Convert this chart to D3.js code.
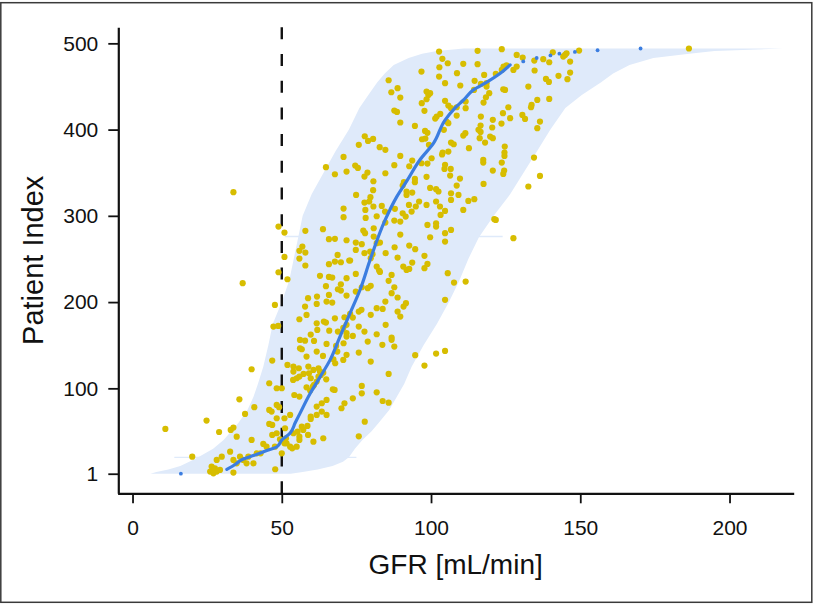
<!DOCTYPE html>
<html><head><meta charset="utf-8">
<script src="https://cdn.jsdelivr.net/npm/d3@7"></script>
<style>html,body{margin:0;padding:0;background:#fff;} svg{display:block;}</style>
</head><body>
<svg id="chart" width="815" height="604"></svg>
<script>
// ---------- data ----------
const xTicks = [0, 50, 100, 150, 200];
const yTicks = [1, 100, 200, 300, 400, 500];
const xLabel = "GFR [mL/min]";
const yLabel = "Patient Index";
const threshold = 50;

// prediction interval (per sorted patient index)
const bandIdx   = [1, 3, 6, 10, 15, 20, 30, 40, 50, 60, 75, 90, 105, 125, 150, 175, 200, 225, 250, 275, 300, 325, 350, 375, 400, 425, 440, 455, 465, 475, 483, 488, 491, 494];
const bandLower = [6, 8, 12, 16, 19, 22, 27, 30.5, 33, 35.5, 38.5, 40.5, 42, 43.8, 45.5, 47, 50, 52.5, 54, 55.5, 57, 60, 64, 68, 72.5, 76, 79, 82, 84.5, 87.5, 92.5, 97, 102, 111];
const bandUpper = [53, 57, 62, 67, 70.5, 72.5, 74.5, 77, 80, 82.5, 86, 88.5, 91, 93.5, 97.5, 102, 106, 109.5, 112.5, 116, 121, 126.5, 131, 135.5, 140, 145, 150.5, 157, 161, 166.5, 174.5, 186.5, 195, 218];
// single patients with unusually wide intervals
const wideRowIdx   = [20, 276];
const wideRowLower = [14, 51];
const wideRowUpper = [75, 124];

// predicted GFR (sorted) – continuous part
const predIdx = [6, 12, 18, 22, 28, 32, 40, 48, 60, 71, 94, 113, 133, 160, 185, 214, 249, 295, 322, 341, 365, 384, 411, 425, 434, 446, 455, 465, 475];
const predGfr = [31.6, 34.5, 37.1, 40.5, 45, 48.3, 50, 52.8, 54.5, 56.1, 59.5, 62.8, 66.2, 69.5, 72.6, 76.2, 79.6, 84.6, 88.5, 92, 96.3, 100.8, 104.7, 108, 110.8, 114.2, 118.7, 123.1, 126.5];
// predicted GFR – isolated patients at the extremes
const predSparseIdx = [1, 479, 483, 486, 488, 490, 492, 494];
const predSparseGfr = [16.2, 130.9, 135.4, 140, 143, 148.2, 155.8, 170.2];

// measured GFR [gfr, patient index]
const measured = [
[33.8,327.4],[70.7,368.3],[64.8,356.4],[67.8,348.2],[71.7,351.3],[70.7,308.4],[70.7,298.4],
[47.7,196.7],[57.8,194.8],[61.7,197.9],[65.0,200.6],[66.9,199.4],[58.3,185.1],[55.9,180.1],[47.2,171.6],[48.8,172.4],[67.8,181.2],[71.0,182.4],[64.1,177.4],[61.7,175.4],[64.8,176.2],[59.7,162.3],[61.9,167.7],[65.9,166.9],[71.7,163.9],[68.8,165.8],[56.1,156.1],[57.8,155.3],[60.8,155.0],[65.0,151.5],[68.2,149.2],[56.1,146.5],[56.7,145.3],[58.3,136.8],[61.7,142.6],[63.8,137.6],[67.3,133.7],[67.9,129.1],[70.6,132.9],[46.8,132.2],[51.9,127.1],[53.9,125.2],[53.9,119.4],[55.7,123.3],[58.9,125.2],[60.6,121.3],[62.3,123.3],[62.8,119.4],[63.1,115.5],[63.9,118.2],[64.9,110.5],[57.3,116.7],[59.1,117.5],[59.7,111.7],[60.4,102.0],[61.7,107.8],[62.3,113.6],[53.8,109.7],[55.0,111.7],[55.9,113.6],[39.9,122.1],[45.8,105.9],[48.3,100.1],[50.0,100.1],[54.2,92.3],[55.9,90.4],[58.3,101.2],[59.5,97.4],[60.8,103.9],[67.1,98.9],[67.7,98.1],[70.0,76.9],[71.0,82.7],[65.0,86.6],[63.4,82.7],[61.7,78.8],[63.4,73.0],[65.0,69.2],[61.7,69.2],[59.7,67.2],[59.7,64.5],[58.6,56.4],[56.7,55.6],[57.2,51.8],[55.9,44.0],[58.8,46.0],[60.6,38.2],[63.9,42.1],[35.8,87.3],[40.8,78.1],[37.7,70.3],[45.8,75.0],[46.6,73.0],[48.3,80.8],[49.1,78.1],[48.3,65.3],[50.9,65.3],[52.8,69.2],[45.8,58.7],[46.8,57.6],[46.8,46.0],[48.3,47.9],[51.1,53.7],[53.9,47.9],[55.3,49.8],[55.9,40.2],[55.0,32.4],[52.8,32.4],[51.6,36.3],[50.0,24.7],[50.9,36.3],[53.5,30.5],[43.8,35.5],[44.9,32.4],[42.9,24.7],[39.9,40.2],[34.9,44.0],[33.8,54.5],[32.9,51.8],[29.0,49.4],[24.8,62.6],[11.0,52.9],[20.0,20.8],[29.9,20.8],[28.2,17.0],[32.7,26.6],[36.0,20.8],[37.1,17.0],[38.8,20.8],[38.2,13.1],[40.5,13.1],[41.6,24.7],[47.7,32.4],[33.8,17.0],[34.9,13.1],[26.5,9.3],[27.6,7.3],[26.0,3.5],[27.1,1.5],[28.2,3.5],[29.3,5.4],[33.8,2.3],[47.8,6.2],[49.4,40.9],[51.4,42.1],
[48.9,287.6],[50.9,280.6],[57.9,282.6],[63.8,284.5],[65.8,272.9],[67.8,273.3],[71.7,271.7],[56.9,264.4],[55.9,259.4],[57.9,257.4],[55.9,250.5],[57.9,242.4],[68.7,254.7],[67.8,247.0],[69.8,246.2],[65.8,243.9],[72.6,248.2],[50.9,252.4],[48.9,234.6],[51.9,226.5],[62.8,230.4],[65.8,229.2],[66.9,228.4],[71.7,227.7],[69.8,220.7],[64.8,218.4],[68.8,214.9],[69.8,213.4],[71.7,207.6],[65.8,208.3],[61.8,206.4],[58.8,204.5],[36.9,221.9],
[98.8,289.5],[101.7,291.4],[101.7,287.6],[99.7,275.2],[104.7,279.9],[104.7,270.2],[106.7,283.7],[121.7,295.3],[127.6,274.1],[74.8,269.0],[76.8,267.1],[77.3,282.9],[77.9,279.9],[80.8,285.6],[80.8,276.0],[84.7,292.2],[87.7,294.5],[89.7,293.4],[89.7,278.3],[92.7,265.5],[94.7,261.3],[72.9,248.2],[74.8,260.5],[77.7,256.7],[79.6,258.6],[79.8,250.9],[80.4,255.5],[81.8,268.3],[82.9,269.0],[84.8,256.7],[87.8,263.6],[88.8,251.6],[90.7,241.2],[91.8,237.3],[92.7,238.5],[93.7,245.8],[97.8,253.6],[98.8,244.3],[97.8,239.3],[105.6,233.5],[107.7,222.6],[111.6,223.8],[104.7,202.6],[74.8,232.7],[81.8,241.2],[82.6,236.6],[82.9,235.0],[86.8,231.5],[85.8,224.6],[87.7,217.2],[86.8,210.3],[88.8,205.3],[84.7,200.6],[81.8,192.9],[83.8,192.1],[90.8,194.8],[91.6,198.7],[88.8,189.0],[89.7,183.2],[79.8,185.2],[76.7,191.0],[75.8,189.0],[72.9,186.3],[73.8,182.1],[74.8,212.2],[76.8,217.2],[78.8,216.1],[79.8,218.8],[75.8,171.6],[77.7,165.8],[73.8,160.8],[78.8,154.2],[81.8,162.7],[84.8,173.6],[83.7,150.4],[86.8,158.9],[87.7,148.4],[86.8,156.2],[79.8,131.0],[75.8,141.5],[94.7,138.4],[101.7,140.3],[104.7,143.4],[97.8,126.4],[85.8,116.7],[76.8,102.8],[70.6,170.1],[70.7,152.3],[71.7,160.0],[68.6,142.6],[71.7,138.8],[71.7,173.6],
[73.8,88.4],[76.8,94.2],[81.8,95.4],[83.8,85.3],[85.8,83.4],[77.8,61.4],[75.8,44.4],
[102.7,490.5],[115.6,491.3],[123.7,493.2],[128.7,486.6],[130.7,483.5],[103.8,482.0],[105.6,476.9],[110.8,476.2],[115.6,475.8],[124.3,473.1],[125.3,474.6],[127.6,469.2],[128.7,473.1],[96.8,467.3],[102.8,472.3],[108.7,465.4],[102.7,461.5],[114.6,456.5],[117.8,463.4],[121.7,464.6],[123.7,469.2],[134.6,480.0],[137.6,481.6],[139.6,478.1],[134.7,468.5],[138.5,458.8],[139.5,455.3],[85.8,457.2],[104.7,453.8],[109.8,451.1],[116.7,453.0],[118.6,453.8],[118.6,449.9],[124.2,446.8],[124.8,446.0],[132.6,449.9],[86.7,443.3],[88.8,448.0],[89.7,437.1],[96.9,430.6],[98.5,444.1],[99.1,440.2],[98.5,435.2],[99.7,442.2],[104.7,433.3],[105.8,427.9],[106.7,424.8],[108.6,425.9],[111.6,432.5],[111.6,424.8],[114.4,446.0],[117.6,431.3],[119.5,442.2],[118.4,437.5],[124.1,419.0],[125.9,425.9],[126.5,413.2],[130.6,417.0],[131.5,412.4],[133.7,428.6],[133.5,425.9],[135.6,434.4],[139.6,435.6],[87.7,422.1],[88.6,420.5],[97.8,421.7],[89.7,408.2],[94.6,404.3],[101.9,415.1],[101.4,412.8],[103.1,418.2],[105.2,409.3],[105.8,407.4],[104.3,399.7],[108.6,416.3],[111.5,395.8],[110.8,393.1],[112.7,378.4],[116.7,415.1],[116.6,404.7],[120.7,411.3],[120.5,402.4],[115.9,399.7],[116.6,397.3],[116.3,390.0],[118.1,384.9],[119.8,391.9],[120.7,390.0],[123.6,407.0],[124.7,380.3],[124.6,373.4],[124.6,369.5],[123.7,361.8],[124.5,352.5],[120.7,352.5],[117.5,364.9],[117.5,361.8],[117.6,337.0],[134.5,367.6],[136.5,346.3],[132.6,334.0],[135.6,401.6],[136.5,409.3],[77.8,392.3],[78.9,386.9],[80.6,389.2],[75.8,382.3],[82.8,379.6],[84.7,376.5],[74.6,358.3],[75.5,355.6],[77.7,345.5],[78.7,350.2],[80.7,340.1],[80.6,329.7],[84.7,349.4],[87.7,358.7],[89.7,369.5],[92.7,357.5],[93.7,364.1],[94.6,342.8],[94.6,339.0],[96.8,361.0],[98.8,360.6],[98.5,345.2],[99.3,382.3],[97.0,388.8],[98.0,398.5],[98.8,396.2],[98.1,389.6],[100.2,366.8],[103.9,373.4],[103.7,371.1],[105.8,374.5],[107.6,383.0],[106.7,384.9],[104.5,354.4],[106.4,346.7],[109.7,343.2],[108.6,335.1],[99.7,332.4],[101.7,330.9],[102.5,328.2],[90.9,339.0],[90.5,335.1],[91.8,328.2],[91.8,324.3],[93.7,327.0],[96.0,316.6],[94.9,310.8],[92.6,312.7],[90.5,303.0],[87.9,308.1],[84.6,305.0],[83.5,311.5],[80.7,310.8],[77.7,315.4],[79.7,321.6],[79.3,316.6],[74.9,324.3],[78.0,306.9],[78.1,297.6],[81.8,299.5],[91.5,299.2],[93.5,305.0],[98.5,312.7],[101.7,316.6],[103.0,310.8],[103.2,301.1],[104.7,305.7],[106.7,326.2],[106.7,318.5],[109.2,324.3],[110.8,306.9],[112.5,317.3],[114.5,319.3],[104.7,359.1],[106.6,354.4],[121.2,296.1],[124.2,348.6],
[140.8,489.7],[144.9,486.6],[145.4,488.5],[144.3,484.7],[146.6,478.9],[149.6,491.6],[142.7,462.3],[146.6,466.1],[145.7,458.4],[186.4,494.0]
];

// ---------- drawing ----------
const svg = d3.select("#chart");
const FONT = "'Liberation Sans', Arial, Helvetica, sans-serif";
const BAND = "#dfeafa";

const x = d3.scaleLinear().domain([-5, 221.5]).range([117.6, 793.7]);
const y = d3.scaleLinear().domain([-21.7, 518.6]).range([493.3, 27.3]);

// outer frame
svg.append("rect").attr("x", 0.8).attr("y", 2.7).attr("width", 811).attr("height", 599.6)
  .attr("fill", "none").attr("stroke", "#3a3a3a").attr("stroke-width", 1.5);

// prediction band
const band = bandIdx.map((i, k) => ({i, lo: bandLower[k], hi: bandUpper[k]}));
svg.append("path").datum(band)
  .attr("fill", BAND)
  .attr("d", d3.area().y(d => y(d.i)).x0(d => x(d.lo)).x1(d => x(d.hi)));
svg.append("g").selectAll("line").data(wideRowIdx.map((i, k) => ({i, lo: wideRowLower[k], hi: wideRowUpper[k]}))).join("line")
  .attr("x1", d => x(d.lo)).attr("x2", d => x(d.hi)).attr("y1", d => y(d.i)).attr("y2", d => y(d.i))
  .attr("stroke", BAND).attr("stroke-width", 1.4);

// threshold dashed line
svg.append("line")
  .attr("x1", x(threshold)).attr("x2", x(threshold))
  .attr("y1", y.range()[1]).attr("y2", y.range()[0])
  .attr("stroke", "#111").attr("stroke-width", 2.4).attr("stroke-dasharray", "12,14.7");

// measured GFR dots
svg.append("g").selectAll("circle").data(measured).join("circle")
  .attr("cx", d => x(d[0])).attr("cy", d => y(d[1])).attr("r", 3.1)
  .attr("fill", "#d7bd00");

// predicted GFR line
const pred = predIdx.map((i, k) => ({i, g: predGfr[k]}));
svg.append("path").datum(pred)
  .attr("fill", "none").attr("stroke", "#3b7de0").attr("stroke-width", 3.2)
  .attr("stroke-linecap", "round").attr("stroke-linejoin", "round")
  .attr("d", d3.line().x(d => x(d.g)).y(d => y(d.i)).curve(d3.curveMonotoneY));
svg.append("g").selectAll("circle").data(predSparseIdx.map((i, k) => ({i, g: predSparseGfr[k]}))).join("circle")
  .attr("cx", d => x(d.g)).attr("cy", d => y(d.i)).attr("r", 1.9).attr("fill", "#3b7de0");

// axes
const xAxis = svg.append("g").attr("transform", `translate(0,${y.range()[0]})`)
  .call(d3.axisBottom(x).tickValues(xTicks).tickSize(10).tickSizeOuter(0).tickPadding(17));
const yAxis = svg.append("g").attr("transform", `translate(${x.range()[0] + 0.7},0)`)
  .call(d3.axisLeft(y).tickValues(yTicks).tickSize(10).tickSizeOuter(0).tickPadding(10));
[xAxis, yAxis].forEach(g => {
  g.select(".domain").attr("stroke", "#111").attr("stroke-width", 2.2);
  g.selectAll(".tick line").attr("stroke", "#111").attr("stroke-width", 1.8);
  g.selectAll(".tick text").attr("fill", "#111").style("font-family", FONT).style("font-size", "21px");
});

// axis titles
svg.append("text").attr("x", (x.range()[0] + x.range()[1]) / 2).attr("y", 574)
  .attr("text-anchor", "middle").attr("fill", "#111")
  .style("font-family", FONT).style("font-size", "28px").text(xLabel);
svg.append("text").attr("transform", `translate(43.3,${(y.range()[0] + y.range()[1]) / 2}) rotate(-90)`)
  .attr("text-anchor", "middle").attr("fill", "#111")
  .style("font-family", FONT).style("font-size", "29px").text(yLabel);
</script>
</body></html>
